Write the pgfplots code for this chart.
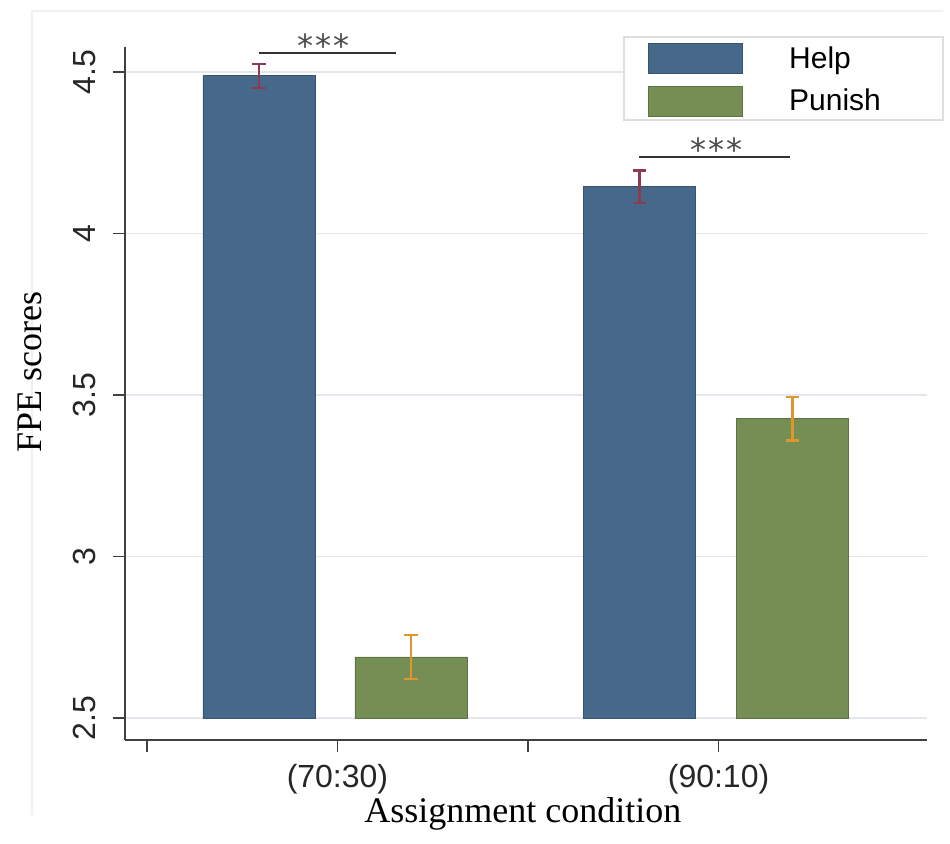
\documentclass[border=0pt]{standalone}
\usepackage{fontspec}
\setmainfont{Liberation Sans}
\newfontfamily\seriffont{Liberation Serif}
\newfontfamily\starfont{DejaVu Sans}
\usepackage{pgfplots}
\pgfplotsset{compat=1.18}
\definecolor{helpc}{HTML}{46688A}
\definecolor{punc}{HTML}{758E54}
\definecolor{errh}{HTML}{8E3B52}
\definecolor{errp}{HTML}{E0962C}
\definecolor{gridc}{HTML}{E4E8EC}
\pgfplotsset{boxlegend/.style={legend image code/.code={\draw[#1] (0pt,-7.5pt) rectangle (47pt,7.5pt);}}}
\newcommand{\stars}{*\kern1pt*\kern1pt*}
\begin{document}
\begin{tikzpicture}
\draw[black!6, line width=0.8pt] (-46.5pt,-37.5pt) -- (-46.5pt,364.5pt) -- (409pt,364.5pt);
\begin{axis}[
  scale only axis, width=401pt, height=346.5pt,
  xmin=-0.115, xmax=4.094, ymin=-0.068, ymax=2.077,
  axis x line=bottom, axis y line=left,
  axis line style={-, line width=0.9pt, color=black!75},
  tick align=outside, major tick length=6pt,
  tick style={line width=0.9pt, color=black!75},
  xtick={0,1,2,3}, xticklabels={,(70:30),,(90:10)},
  ytick={0,0.5,1,1.5,2}, yticklabels={2.5,3,3.5,4,4.5},
  ymajorgrids, grid style={gridc, line width=0.9pt},
  tick label style={font=\fontsize{16}{19}\selectfont, text=black!85},
  yticklabel style={rotate=90, anchor=south},
  yticklabel shift=5pt, xticklabel shift=2.5pt,
  xlabel={Assignment condition}, ylabel={FPE scores},
  every axis x label/.style={at={(axis description cs:0.496,0)}, yshift=-37pt, anchor=center,
    font=\seriffont\fontsize{18}{21}\selectfont},
  every axis y label/.style={at={(axis description cs:0,0.531)}, xshift=-47.5pt, rotate=90, anchor=center,
    font=\seriffont\fontsize{18}{21}\selectfont},
  clip=false,
  y filter/.expression={y-2.5},
  legend style={at={(0.6521,1.0058)}, anchor=north west, draw=none, fill=none,
    inner sep=0pt, row sep=6pt, column sep=23pt,
    font=\fontsize{15}{18}\selectfont, nodes={inner sep=0pt}},
  legend cell align=left,
]
\addplot[ybar, bar width=0.588, bar shift=0pt, fill=helpc, draw=helpc!80!black, line width=0.4pt,
  boxlegend,
  error bars/.cd, y dir=both, y explicit,
  error bar style={errh, line width=1.1pt},
  error mark options={errh, line width=1.1pt, mark size=3.3pt, rotate=90}]
  coordinates {(0.588,4.488) +- (0,0.037) (2.585,4.144) +- (0,0.051)};
\addlegendentry{Help}
\addplot[ybar, bar width=0.588, bar shift=0pt, fill=punc, draw=punc!80!black, line width=0.4pt,
  boxlegend,
  error bars/.cd, y dir=both, y explicit,
  error bar style={errp, line width=1.1pt},
  error mark options={errp, line width=1.1pt, mark size=3.3pt, rotate=90}]
  coordinates {(1.386,2.689) +- (0,0.068) (3.388,3.426) +- (0,0.067)};
\addlegendentry{Punish}
% significance annotations
\draw[black!80, line width=0.9pt] (axis cs:0.588,2.059) -- (axis cs:1.307,2.059);
\node[font=\starfont\fontsize{16}{18}\selectfont, text=black!70, anchor=base, inner sep=0pt, yshift=-2.5pt] at (axis cs:0.929,2.059) {\stars};
\draw[black!80, line width=0.9pt] (axis cs:2.583,1.737) -- (axis cs:3.375,1.737);
\node[font=\starfont\fontsize{16}{18}\selectfont, text=black!70, anchor=base, inner sep=0pt, yshift=-2.5pt] at (axis cs:2.987,1.737) {\stars};
% legend frame
\draw[gray!25, fill=white, line width=0.6pt] (rel axis cs:0.6222,0.8947) rectangle (rel axis cs:1.02,1.0144);
\end{axis}
\pgfresetboundingbox
\useasboundingbox (-62.5pt,-51.5pt) rectangle (412.5pt,370pt);
\end{tikzpicture}
\end{document}
